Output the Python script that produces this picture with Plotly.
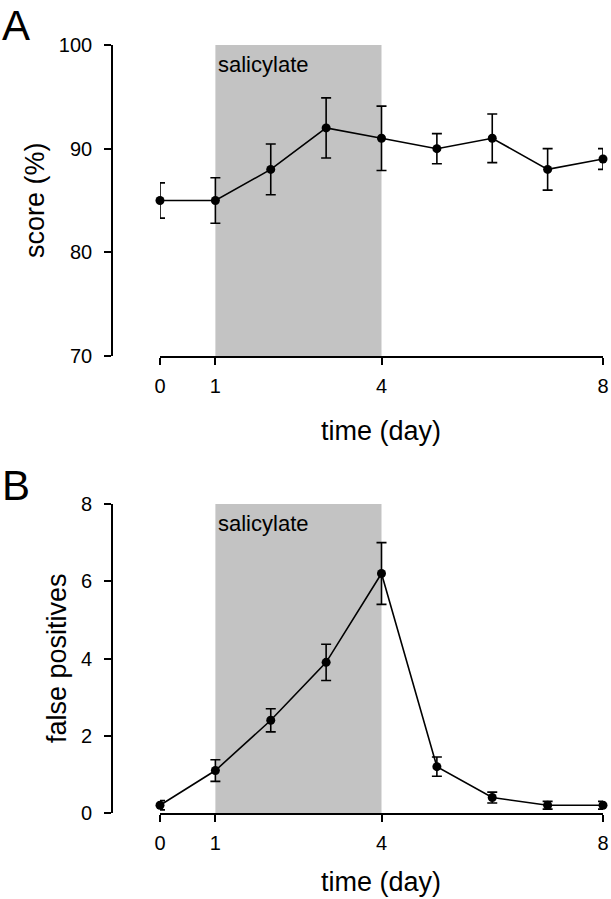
import plotly.graph_objects as go

W, H = 611, 899

days = [0, 1, 2, 3, 4, 5, 6, 7, 8]
score = [85, 85, 88, 92, 91, 90, 91, 88, 89]
score_err = [1.7, 2.2, 2.45, 2.9, 3.1, 1.45, 2.35, 2.0, 1.0]
fp = [0.2, 1.1, 2.4, 3.9, 6.2, 1.2, 0.4, 0.2, 0.2]
fp_err = [0.12, 0.28, 0.3, 0.47, 0.8, 0.25, 0.14, 0.1, 0.1]

x_ticks = [0, 1, 4, 8]
yA_ticks = [70, 80, 90, 100]
yB_ticks = [0, 2, 4, 6, 8]
drug_start, drug_end = 1, 4

FONT = "Liberation Sans, Arial, sans-serif"

def px_x(p):
    return p / W

def px_y(p):
    return 1 - p / H

fig = go.Figure()

for xa, ya, yv, ev in [("x", "y", score, score_err), ("x2", "y2", fp, fp_err)]:
    fig.add_trace(go.Scatter(
        x=days, y=yv, xaxis=xa, yaxis=ya, mode="lines+markers",
        line=dict(color="black", width=1.6),
        marker=dict(color="black", size=9),
        error_y=dict(type="data", array=ev, visible=True, color="black",
                     thickness=1.6, width=5),
        cliponaxis=False, showlegend=False,
    ))

axis_common = dict(showgrid=False, zeroline=False, showline=True, linecolor="black",
                   linewidth=1.6, ticks="outside", ticklen=7, tickwidth=1.6,
                   automargin=False,
                   tickcolor="black", tickfont=dict(family=FONT, size=20, color="black"))

fig.update_layout(
    template="none",
    width=W, height=H, margin=dict(l=0, r=0, t=0, b=0, pad=0),
    plot_bgcolor="white", paper_bgcolor="white",
    xaxis=dict(domain=[px_x(160), px_x(603)], range=[0, 8], anchor="y",
               tickvals=x_ticks, ticklabelstandoff=4, **axis_common),
    yaxis=dict(domain=[px_y(356), px_y(45)], range=[70, 100], anchor="free",
               position=px_x(112), tickvals=yA_ticks, ticklabelstandoff=8, **axis_common),
    xaxis2=dict(domain=[px_x(160), px_x(603)], range=[0, 8], anchor="y2",
                tickvals=x_ticks, ticklabelstandoff=4, **axis_common),
    yaxis2=dict(domain=[px_y(813), px_y(504)], range=[0, 8], anchor="free",
                position=px_x(112), tickvals=yB_ticks, ticklabelstandoff=8, **axis_common),
)

for xr, yr in [("x", "y domain"), ("x2", "y2 domain")]:
    fig.add_shape(type="rect", xref=xr, yref=yr, x0=drug_start, x1=drug_end, y0=0, y1=1,
                  fillcolor="#c3c3c3", line=dict(width=0), layer="below")

def ann(text, x, y, size, xanchor="center", yanchor="middle", angle=0):
    fig.add_annotation(text=text, x=px_x(x), y=px_y(y), xref="paper", yref="paper",
                       showarrow=False, xanchor=xanchor, yanchor=yanchor, textangle=angle,
                       font=dict(family=FONT, size=size, color="black"))

ann("A", 0, 0, 42, xanchor="left", yanchor="top")
ann("B", 0, 460, 42, xanchor="left", yanchor="top")
ann("salicylate", 216, 64, 22, xanchor="left")
ann("salicylate", 216, 523, 22, xanchor="left")
ann("time (day)", 381, 431, 27)
ann("time (day)", 381, 899, 27, yanchor="bottom")
ann("score (%)", 35, 200, 27, angle=-90)
ann("false positives", 57, 658, 27, angle=-90)

fig.write_html("out.html", config={"displayModeBar": False},
               post_script="document.body.style.margin='0';document.body.style.overflow='hidden';")
